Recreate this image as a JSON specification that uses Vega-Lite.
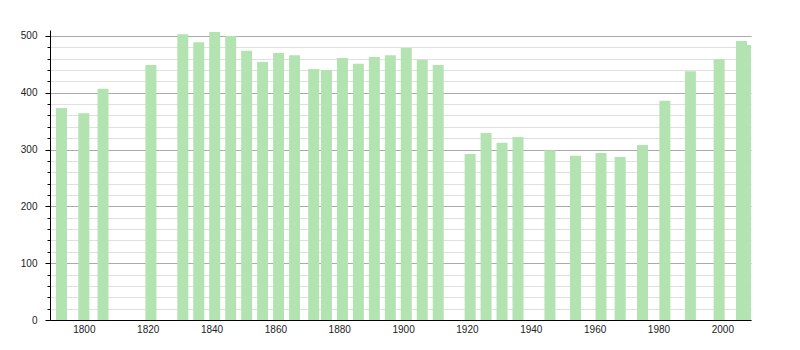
{
  "$schema": "https://vega.github.io/schema/vega-lite/v6.json",
  "autosize": "none",
  "width": 701,
  "height": 290,
  "padding": {"left": 50, "top": 30, "right": 49, "bottom": 30},
  "background": "white",
  "config": {
    "view": {"stroke": null},
    "font": "Liberation Sans",
    "axis": {"labelFont": "Liberation Sans", "labelFontSize": 10, "labelColor": "#222", "domainColor": "#000", "domainWidth": 1}
  },
  "data": {
    "values": [
      {"year": 1793, "pop": 373},
      {"year": 1800, "pop": 364},
      {"year": 1806, "pop": 407},
      {"year": 1821, "pop": 449},
      {"year": 1831, "pop": 503},
      {"year": 1836, "pop": 489},
      {"year": 1841, "pop": 507},
      {"year": 1846, "pop": 500},
      {"year": 1851, "pop": 474},
      {"year": 1856, "pop": 454},
      {"year": 1861, "pop": 470},
      {"year": 1866, "pop": 466},
      {"year": 1872, "pop": 442},
      {"year": 1876, "pop": 440},
      {"year": 1881, "pop": 461},
      {"year": 1886, "pop": 451},
      {"year": 1891, "pop": 463},
      {"year": 1896, "pop": 466},
      {"year": 1901, "pop": 479},
      {"year": 1906, "pop": 458},
      {"year": 1911, "pop": 449},
      {"year": 1921, "pop": 292},
      {"year": 1926, "pop": 329},
      {"year": 1931, "pop": 312},
      {"year": 1936, "pop": 322},
      {"year": 1946, "pop": 299},
      {"year": 1954, "pop": 289},
      {"year": 1962, "pop": 294},
      {"year": 1968, "pop": 287},
      {"year": 1975, "pop": 308},
      {"year": 1982, "pop": 386},
      {"year": 1990, "pop": 438},
      {"year": 1999, "pop": 459},
      {"year": 2006, "pop": 491},
      {"year": 2008, "pop": 484}
    ]
  },
  "mark": {"type": "bar", "width": 11, "color": "#b3e3b0", "clip": true},
  "encoding": {
    "x": {
      "field": "year",
      "type": "quantitative",
      "scale": {"domain": [1789.4, 2008.98], "nice": false, "zero": false, "padding": 0},
      "axis": {
        "title": null,
        "values": [1800, 1820, 1840, 1860, 1880, 1900, 1920, 1940, 1960, 1980, 2000],
        "format": "d",
        "grid": false,
        "ticks": false,
        "labelPadding": 4
      }
    },
    "y": {
      "field": "pop",
      "type": "quantitative",
      "scale": {"domain": [0, 510.5], "nice": false, "padding": 0},
      "axis": {
        "title": null,
        "values": [0, 20, 40, 60, 80, 100, 120, 140, 160, 180, 200, 220, 240, 260, 280, 300, 320, 340, 360, 380, 400, 420, 440, 460, 480, 500],
        "labelExpr": "datum.value % 100 === 0 ? datum.label : ''",
        "grid": true,
        "gridColor": {"condition": {"test": "datum.value % 100 === 0", "value": "#aaaaaa"}, "value": "#e0e0e0"},
        "tickSize": {"condition": {"test": "datum.value % 100 === 0", "value": 5}, "value": 3},
        "tickColor": "#000",
        "labelPadding": 8
      }
    }
  }
}
